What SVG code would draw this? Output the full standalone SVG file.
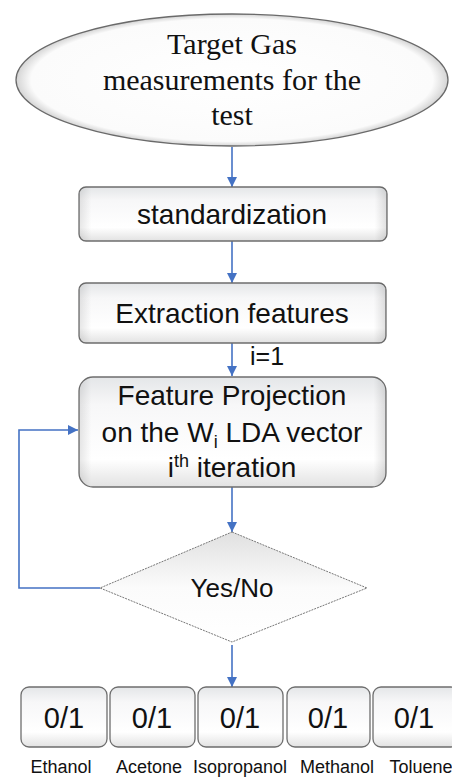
<svg xmlns="http://www.w3.org/2000/svg" width="452" height="779" viewBox="0 0 452 779">
<defs>
<linearGradient id="boxg" x1="0" y1="0" x2="0" y2="1">
<stop offset="0" stop-color="#e4e6e8"/>
<stop offset="0.25" stop-color="#f7f7f8"/>
<stop offset="0.75" stop-color="#ffffff"/>
<stop offset="1" stop-color="#e2e2e2"/>
</linearGradient>
<linearGradient id="boxh" x1="0" y1="0" x2="1" y2="0">
<stop offset="0" stop-color="#000" stop-opacity="0.10"/>
<stop offset="0.04" stop-color="#000" stop-opacity="0"/>
<stop offset="0.96" stop-color="#000" stop-opacity="0"/>
<stop offset="1" stop-color="#000" stop-opacity="0.12"/>
</linearGradient>
<radialGradient id="ellg" cx="0.5" cy="0.5" r="0.5">
<stop offset="0" stop-color="#ffffff"/>
<stop offset="0.93" stop-color="#fbfbfb"/>
<stop offset="1" stop-color="#d4d4d4"/>
</radialGradient>
<linearGradient id="diag" x1="0" y1="0" x2="0" y2="1">
<stop offset="0" stop-color="#e0e0e0"/>
<stop offset="0.5" stop-color="#fbfbfb"/>
<stop offset="1" stop-color="#ffffff"/>
</linearGradient>
<marker id="arr" viewBox="0 0 10 10" refX="10" refY="5" markerWidth="10" markerHeight="10" markerUnits="userSpaceOnUse" orient="auto">
<path d="M0,0 L10,5 L0,10 z" fill="#4472c4"/>
</marker>
</defs>
<style>
.box{fill:url(#boxg);stroke:#6e6e6e;stroke-width:1.3}
.shade{fill:url(#boxh);stroke:none}
.sans{font-family:"Liberation Sans","Open Sans",Arial,sans-serif;fill:#111;text-anchor:middle}
.serif{font-family:"Liberation Serif","Times New Roman",serif;fill:#111;text-anchor:middle}
.conn{fill:none;stroke:#4472c4;stroke-width:1.6}
.lbl{font-family:"Liberation Sans","Open Sans",Arial,sans-serif;fill:#111;text-anchor:middle;font-size:18px}
</style>

<g id="connectors">
<line class="conn" x1="232" y1="147" x2="232" y2="187" marker-end="url(#arr)"/>
<line class="conn" x1="232" y1="241" x2="232" y2="283" marker-end="url(#arr)"/>
<line class="conn" x1="232" y1="343" x2="232" y2="376" marker-end="url(#arr)"/>
<line class="conn" x1="232" y1="487" x2="232" y2="532" marker-end="url(#arr)"/>
<polyline class="conn" points="100,588 19,588 19,430 78,430" marker-end="url(#arr)"/>
<line class="conn" x1="232" y1="645" x2="232" y2="687" marker-end="url(#arr)"/>
<text x="250" y="365" class="sans" style="text-anchor:start;font-size:25px">i=1</text>
</g>

<g id="start">
<ellipse cx="232" cy="80" rx="216" ry="66" fill="url(#ellg)" stroke="#6a6a6a" stroke-width="1.3"/>
<text class="serif" x="232" y="54" font-size="30">Target Gas</text>
<text class="serif" x="232" y="90" font-size="30">measurements for the</text>
<text class="serif" x="232" y="125" font-size="30">test</text>
</g>

<g id="standardization">
<rect class="box" x="79" y="187" width="308" height="54" rx="7"/>
<rect class="shade" x="79" y="187" width="308" height="54" rx="7"/>
<text class="sans" x="232" y="224" font-size="28">standardization</text>
</g>

<g id="extraction">
<rect class="box" x="79" y="283" width="307" height="60" rx="7"/>
<rect class="shade" x="79" y="283" width="307" height="60" rx="7"/>
<text class="sans" x="232" y="323" font-size="28">Extraction features</text>
</g>

<g id="projection">
<rect class="box" x="79" y="377" width="307" height="110" rx="14"/>
<rect class="shade" x="79" y="377" width="307" height="110" rx="14"/>
<text class="sans" x="232" y="405" font-size="28">Feature Projection</text>
<text class="sans" x="232" y="442" font-size="28">on the W<tspan font-size="18" dy="6">i</tspan><tspan dy="-6"> LDA vector</tspan></text>
<text class="sans" x="232" y="477" font-size="28">i<tspan font-size="18" dy="-10">th</tspan><tspan dy="10"> iteration</tspan></text>
</g>

<g id="decision">
<polygon points="232,532 367,588 232,642 100,588" fill="url(#diag)" stroke="#777" stroke-width="1" stroke-dasharray="2,1"/>
<text class="sans" x="232" y="597" font-size="26" fill="#222">Yes/No</text>
</g>

<g id="out-ethanol">
<rect class="box" x="21" y="687" width="86" height="60" rx="8"/>
<text class="sans" x="64" y="728" font-size="29">0/1</text>
<text class="lbl" x="61" y="773">Ethanol</text>
</g>
<g id="out-acetone">
<rect class="box" x="110" y="687" width="85" height="60" rx="8"/>
<text class="sans" x="152" y="728" font-size="29">0/1</text>
<text class="lbl" x="149" y="773">Acetone</text>
</g>
<g id="out-isopropanol">
<rect class="box" x="198" y="687" width="85" height="60" rx="8"/>
<text class="sans" x="240" y="728" font-size="29">0/1</text>
<text class="lbl" x="240" y="773">Isopropanol</text>
</g>
<g id="out-methanol">
<rect class="box" x="287" y="687" width="83" height="60" rx="8"/>
<text class="sans" x="328" y="728" font-size="29">0/1</text>
<text class="lbl" x="337" y="773">Methanol</text>
</g>
<g id="out-toluene">
<rect class="box" x="373" y="687" width="86" height="60" rx="8"/>
<text class="sans" x="414" y="728" font-size="29">0/1</text>
<text class="lbl" x="421" y="773">Toluene</text>
</g>
</svg>
